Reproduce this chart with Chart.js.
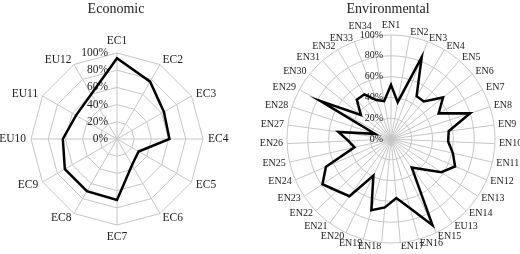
<!DOCTYPE html>
<html>
<head>
<meta charset="utf-8">
<script src="https://cdn.jsdelivr.net/npm/chart.js@4"></script>
<style>
  body { margin: 0; background: #fff; }
  #wrap { position: relative; width: 520px; height: 254px; }
  canvas { position: absolute; top: 0; }
  #econChart { left: 0; }
  #envChart { left: 256px; }
</style>
</head>
<body>
<div id="wrap">
  <canvas id="econChart" width="232" height="254"></canvas>
  <canvas id="envChart" width="264" height="254"></canvas>
</div>
<script>
const tickValues = [0, 20, 40, 60, 80, 100];

const econLabels = ['EC1', 'EC2', 'EC3', 'EC4', 'EC5', 'EC6', 'EC7', 'EC8', 'EC9', 'EU10', 'EU11', 'EU12'];
const econValues = [94, 77, 63, 61, 29, 35, 71, 70, 70, 63, 55, 60];

const envLabels = ['EN1', 'EN2', 'EN3', 'EN4', 'EN5', 'EN6', 'EN7', 'EN8', 'EN9', 'EN10', 'EN11', 'EN12',
  'EN13', 'EN14', 'EU13', 'EN15', 'EN16', 'EN17', 'EN18', 'EN19', 'EN20', 'EN21', 'EN22', 'EN23', 'EN24',
  'EN25', 'EN26', 'EN27', 'EN28', 'EN29', 'EN30', 'EN31', 'EN32', 'EN33', 'EN34'];
const envValues = [52, 36, 84, 48, 48, 64, 52, 80, 56, 55, 61, 67,
  58, 42, 34, 92, 69, 57, 66, 71, 39, 68, 72, 79, 68,
  36, 41, 51, 16, 77, 37, 50, 50, 40, 37];

const serif = "'Liberation Serif', 'Times New Roman', serif";
const gridColor = '#c6c6c6';
const textColor = '#222';

// fixa centro e raio da escala radial; os rotulos acompanham
// (e ficam centrados na vertical, menos os do topo e o de baixo)
function placeScale(cx, cy, r) {
  return function (scale) {
    const dx = cx - scale.xCenter;
    const dy = cy - scale.yCenter;
    const dr = r - scale.drawingArea;
    (scale._pointLabelItems || []).forEach((item, i) => {
      const ang = scale.getIndexAngle(i);
      const a = ang - Math.PI / 2;
      const deg = Math.round(ang * 180 / Math.PI) % 360;
      const h = item.bottom - item.top;
      let my = dy + dr * Math.sin(a);
      if (deg % 90 !== 0 && deg < 345) {
        my += deg < 90 ? h / 2 : (deg > 270 ? h / 2 : -h / 2);
      }
      const mx = dx + dr * Math.cos(a);
      item.x += mx; item.left += mx; item.right += mx;
      item.y += my; item.top += my; item.bottom += my;
    });
    scale.xCenter = cx;
    scale.yCenter = cy;
    scale.drawingArea = r;
  };
}

// rotulos 0%..100% a esquerda do eixo vertical
const tickLabels = {
  id: 'tickLabels',
  beforeDatasetsDraw(chart, args, opts) {
    const scale = chart.scales.r;
    const ctx = chart.ctx;
    ctx.save();
    ctx.font = opts.size + 'px ' + serif;
    ctx.fillStyle = textColor;
    ctx.textAlign = 'right';
    ctx.textBaseline = 'middle';
    tickValues.forEach(v => {
      const d = scale.getDistanceFromCenterForValue(v);
      ctx.fillText(v + '%', scale.xCenter - opts.offset, scale.yCenter - d);
    });
    ctx.restore();
  }
};

function criarRadar(id, titulo, labels, values, o) {
  return new Chart(document.getElementById(id), {
    type: 'radar',
    data: {
      labels: labels,
      datasets: [{
        data: values,
        borderColor: '#000',
        borderWidth: 2.5,
        pointRadius: 0,
        fill: false,
        clip: false
      }]
    },
    options: {
      responsive: false,
      animation: false,
      plugins: {
        legend: { display: false },
        tooltip: { enabled: false },
        title: {
          display: true,
          text: titulo,
          color: textColor,
          font: { family: serif, size: 14, weight: 'normal' },
          padding: { top: 1, bottom: 0 }
        },
        tickLabels: { size: o.tickSize, offset: o.tickOffset }
      },
      scales: {
        r: {
          min: 0,
          max: 100,
          ticks: { display: false, stepSize: 20 },
          grid: { color: gridColor, circular: o.circular },
          angleLines: { color: gridColor },
          pointLabels: {
            color: textColor,
            font: { family: serif, size: o.labelSize },
            padding: o.labelPadding
          },
          afterFit: placeScale(o.cx, o.cy, o.r)
        }
      }
    },
    plugins: [tickLabels]
  });
}

criarRadar('econChart', 'Economic', econLabels, econValues, {
  cx: 117, cy: 139, r: 86, circular: false,
  labelSize: 11.5, labelPadding: 5, tickSize: 11.5, tickOffset: 9
});

criarRadar('envChart', 'Environmental', envLabels, envValues, {
  cx: 135, cy: 139, r: 104, circular: true,
  labelSize: 10, labelPadding: 4, tickSize: 10, tickOffset: 8
});
</script>
</body>
</html>
